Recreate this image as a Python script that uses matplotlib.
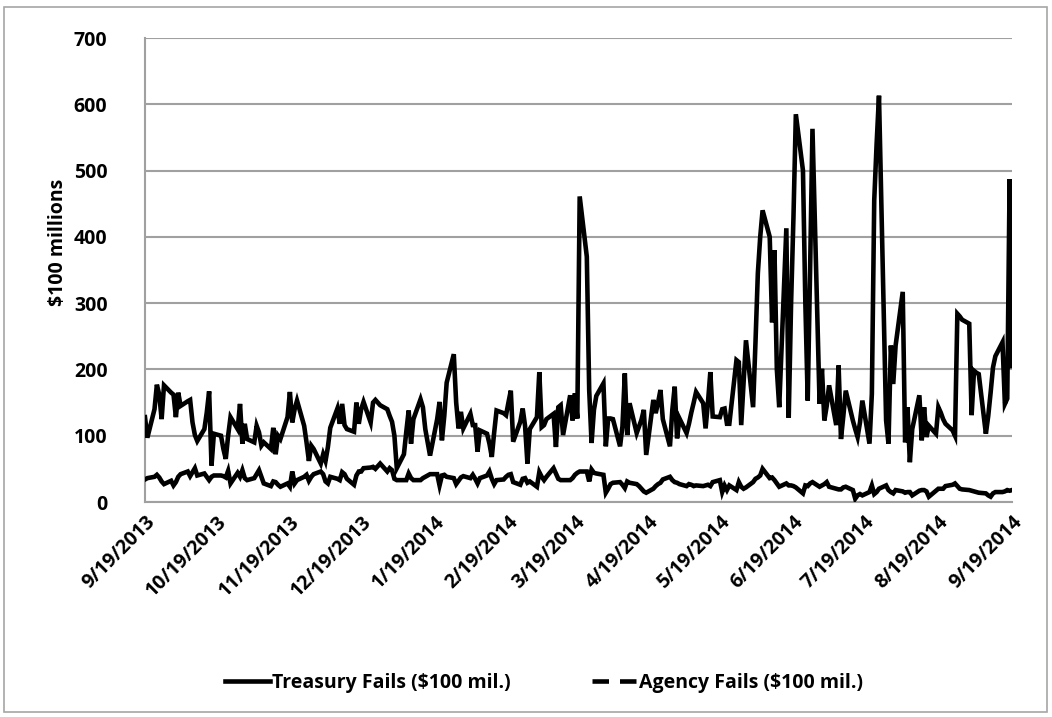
import matplotlib
matplotlib.use('Agg')
import matplotlib.pyplot as plt
from matplotlib.lines import Line2D
from matplotlib.patches import Rectangle
import pandas as pd

# ---- data (business days, 9/19/2013 - 9/19/2014), $100 millions ----
treasury_1 = [128, 97, 140, 177, 162, 125, 176, 165, 162, 128, 165, 145, 152, 154, 120, 101, 92, 110, 135, 167, 55, 103]
treasury_2 = [100, 80, 65, 100, 128, 110, 148, 88, 118, 95, 90, 115, 105, 85, 90, 80, 112, 72, 100, 95, 128]
treasury_3 = [166, 120, 140, 153, 115, 90, 62, 85, 80, 58, 72, 62, 83, 112, 141, 118, 148, 116, 110, 106, 150, 118]
treasury_4 = [140, 151, 120, 150, 154, 150, 146, 140, 130, 121, 100, 51, 72, 106, 138, 88, 125, 155, 143, 110, 90, 70]
treasury_5 = [125, 151, 93, 130, 180, 223, 150, 111, 136, 111, 133, 116, 116, 76, 108, 103, 88, 68, 105, 138, 134, 131]
treasury_6 = [150, 168, 91, 121, 141, 115, 58, 110, 128, 196, 113, 116, 125, 133, 83, 143, 146, 101, 161, 123]
treasury_7 = [164, 126, 461, 370, 169, 89, 139, 160, 179, 84, 126, 126, 125, 84, 114, 194, 101, 149, 104, 114, 124, 139, 71]
treasury_8 = [154, 134, 150, 169, 125, 84, 139, 174, 96, 126, 104, 118, 135, 150, 166, 149, 111, 150, 196, 129]
treasury_9 = [128, 140, 141, 118, 118, 214, 211, 116, 180, 244, 143, 240, 345, 400, 440, 400, 271, 380, 200, 143, 413, 127, 300]
treasury_10 = [430, 585, 500, 300, 153, 350, 563, 148, 201, 123, 145, 176, 116, 206, 95, 130, 168, 123, 110, 98, 120, 153]
treasury_11 = [88, 163, 455, 540, 613, 123, 88, 236, 178, 236, 317, 90, 143, 60, 110, 161, 93, 143, 98, 115, 103]
treasury_12 = [143, 135, 125, 118, 108, 100, 284, 280, 275, 269, 131, 198, 195, 193, 103, 130, 165, 203, 220, 241, 148, 156, 487]
treasury_13 = [205]

agency_1 = [34, 36, 38, 41, 37, 31, 27, 32, 25, 30, 38, 42, 46, 39, 45, 51, 40, 43, 38, 33, 38, 40]
agency_2 = [40, 39, 37, 47, 28, 44, 38, 48, 36, 33, 36, 42, 48, 38, 28, 24, 31, 30, 26, 23, 28]
agency_3 = [23, 46, 28, 33, 38, 41, 32, 38, 42, 46, 42, 31, 28, 38, 35, 33, 45, 42, 35, 26, 40, 46]
agency_4 = [46, 51, 52, 53, 50, 54, 58, 46, 51, 48, 35, 33, 33, 33, 43, 36, 33, 33, 36, 38, 40, 42]
agency_5 = [42, 25, 40, 41, 38, 36, 27, 32, 37, 39, 36, 41, 35, 28, 36, 40, 46, 35, 27, 33, 34, 38]
agency_6 = [41, 42, 30, 26, 35, 36, 29, 31, 23, 45, 38, 33, 38, 51, 43, 35, 33, 33, 33, 36]
agency_7 = [41, 44, 46, 46, 31, 49, 44, 43, 41, 14, 20, 27, 29, 30, 26, 21, 31, 29, 27, 24, 20, 16, 14]
agency_8 = [20, 24, 27, 29, 34, 38, 33, 30, 29, 27, 24, 27, 26, 24, 25, 24, 25, 26, 24, 30]
agency_9 = [33, 15, 25, 18, 25, 18, 30, 23, 20, 22, 30, 35, 37, 40, 50, 36, 37, 33, 28, 23, 28, 25, 25]
agency_10 = [24, 22, 13, 25, 24, 28, 30, 23, 25, 27, 30, 23, 20, 19, 19, 22, 23, 18, 5, 10, 12, 10]
agency_11 = [15, 25, 12, 15, 20, 25, 18, 15, 13, 18, 16, 14, 15, 15, 10, 17, 18, 18, 16, 8, 17]
agency_12 = [20, 20, 20, 24, 26, 28, 24, 20, 19, 18, 17, 16, 15, 14, 13, 10, 8, 13, 15, 15, 16, 18, 17]
agency_13 = [18]

tick_dates = ['2013-09-19', '2013-10-19', '2013-11-19', '2013-12-19', '2014-01-19',
              '2014-02-19', '2014-03-19', '2014-04-19', '2014-05-19', '2014-06-19',
              '2014-07-19', '2014-08-19', '2014-09-19']
tick_labels = ['9/19/2013', '10/19/2013', '11/19/2013', '12/19/2013', '1/19/2014',
               '2/19/2014', '3/19/2014', '4/19/2014', '5/19/2014', '6/19/2014',
               '7/19/2014', '8/19/2014', '9/19/2014']
y_ticks = [0, 100, 200, 300, 400, 500, 600, 700]
series_names = ['Treasury Fails ($100 mil.)', 'Agency Fails ($100 mil.)']
y_title = '$100 millions'

treasury = (treasury_1 + treasury_2 + treasury_3 + treasury_4 + treasury_5 + treasury_6 +
            treasury_7 + treasury_8 + treasury_9 + treasury_10 + treasury_11 + treasury_12 + treasury_13)
agency = (agency_1 + agency_2 + agency_3 + agency_4 + agency_5 + agency_6 +
          agency_7 + agency_8 + agency_9 + agency_10 + agency_11 + agency_12 + agency_13)
dates = pd.bdate_range('2013-09-19', '2014-09-19')
assert len(dates) == len(treasury) == len(agency), (len(dates), len(treasury), len(agency))

# ---- style ----
plt.rcParams['font.family'] = ['Open Sans', 'DejaVu Sans']
plt.rcParams['font.weight'] = 'bold'
FS = 14

W, H = 1052, 717
fig = plt.figure(figsize=(W / 100, H / 100), dpi=100)
fig.patch.set_facecolor('white')
fig.patches.append(Rectangle((4 / W, 1 - 712 / H), (1047 - 4) / W, (712 - 7) / H,
                             transform=fig.transFigure, fill=False,
                             edgecolor='#a6a6a6', lw=1.2))

ax = fig.add_axes([145 / W, 1 - 502 / H, (1012 - 145) / W, (502 - 38) / H])
ax.plot(dates, treasury, color='black', lw=3.3, solid_joinstyle='miter', zorder=3)
ax.plot(dates, agency, color='black', lw=3.3, solid_joinstyle='miter', zorder=3)

ax.set_xlim(pd.Timestamp(tick_dates[0]), pd.Timestamp(tick_dates[-1]))
ax.set_ylim(y_ticks[0], y_ticks[-1])
ax.set_yticks(y_ticks)
ax.set_yticklabels([str(v) for v in y_ticks], fontsize=FS, fontweight='bold')
ax.set_xticks([pd.Timestamp(d) for d in tick_dates])
ax.set_xticklabels(tick_labels, fontsize=FS, fontweight='bold', rotation=45,
                   ha='right', va='top', rotation_mode='anchor')
ax.tick_params(axis='both', length=0)
ax.tick_params(axis='y', pad=27)
ax.tick_params(axis='x', pad=7)

ax.grid(axis='y', color='#a0a0a0', lw=1.5)
ax.set_axisbelow(True)
for s in ['top', 'right']:
    ax.spines[s].set_visible(False)
for s in ['left', 'bottom']:
    ax.spines[s].set_color('#a0a0a0')
    ax.spines[s].set_linewidth(1.5)

ax.set_ylabel(y_title, fontsize=FS, fontweight='bold')
ax.yaxis.set_label_coords(-0.089, 0.56)

handles = [Line2D([], [], color='black', lw=3.3),
           Line2D([], [], color='black', lw=3.3, dashes=(3.6, 2.4))]
fig.legend(handles, series_names, loc='center', bbox_to_anchor=(544 / W, 1 - 683 / H),
           ncol=2, frameon=False, handlelength=2.3, handletextpad=0.1,
           columnspacing=4.2, prop={'weight': 'bold', 'size': FS})

fig.savefig('out.png', dpi=100, facecolor='white')
